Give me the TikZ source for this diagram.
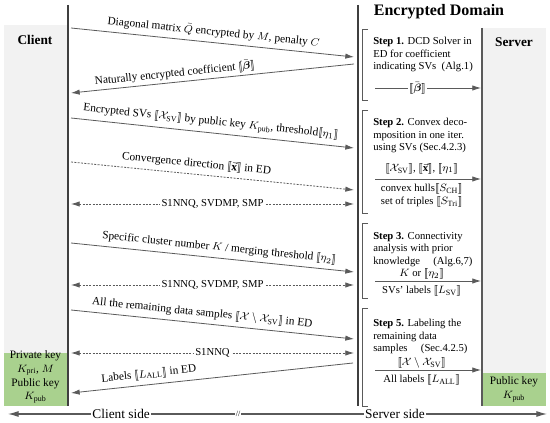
\documentclass[tikz,border=0pt]{standalone}
\usepackage{amsmath}
\usepackage{fontspec}
\setmainfont{Liberation Serif}
\usepackage{tikz}
\usetikzlibrary{arrows.meta,positioning}
\definecolor{PanelGray}{HTML}{F2F2F2}
\definecolor{KeyGreen}{HTML}{A9D18E}
\definecolor{Ink}{HTML}{5A5A5A}
\definecolor{LifeInk}{HTML}{3F3F3F}
\newcommand{\enc}[1]{[\![#1]\!]}
\newcommand{\Xsv}{\mathcal{X}_{\mathrm{SV}}}

\begin{document}
\begin{tikzpicture}[
  x=0.75pt,y=-0.75pt,
  font=\fontsize{8}{9.5}\selectfont,
  msg/.style={-{Latex[length=6.5pt,width=4pt]},draw=Ink,line width=0.6pt},
  back/.style={{Latex[length=6.5pt,width=4pt]}-,draw=Ink,line width=0.6pt},
  proto/.style={{Latex[length=6.5pt,width=4pt]}-{Latex[length=6.5pt,width=4pt]},
    draw=Ink,line width=0.6pt,dash pattern=on 1.5pt off 1pt},
  hint/.style={-{Latex[length=6.5pt,width=4pt]},draw=Ink,line width=0.6pt,
    dash pattern=on 1.5pt off 1pt},
  life/.style={draw=LifeInk,line width=1.6pt},
  brk/.style={draw=Ink,line width=0.5pt},
  steptext/.style={anchor=north west,align=left,inner sep=0pt},
  onwire/.style={fill=white,inner sep=1pt},
  msglabel/.style={above,sloped,font=\fontsize{8.5}{10}\selectfont},
  tight/.style={above,inner sep=1pt},
  sidelabel/.style={fill=white,inner sep=1pt,font=\fontsize{10}{12}\selectfont},
  head/.style={font=\bfseries\fontsize{10}{12}\selectfont}
]
  \useasboundingbox (0,0) rectangle (550,423);

  % side panels
  \fill[PanelGray] (4,25) rectangle (67,353);
  \fill[KeyGreen] (4,353) rectangle (67,406);
  \fill[PanelGray] (483,28) rectangle (546,373);
  \fill[KeyGreen] (483,373) rectangle (546,406);

  \node[head] (client) at (35,40) {Client};
  \node[head] (server) at (514,42) {Server};
  \node[font=\bfseries\fontsize{12}{14}\selectfont] (domain) at (439,12)
    {Encrypted Domain};

  \node[align=center,font=\fontsize{8.5}{10.3}\selectfont] (clientkeys)
    at (35.5,377) {Private key\\$K_{\mathrm{pri}}$, $M$\\Public key\\$K_{\mathrm{pub}}$};
  \node[align=center,font=\fontsize{8.5}{10.3}\selectfont] (serverkey)
    at (514,389.5) {Public key\\$K_{\mathrm{pub}}$};

  % life lines
  \coordinate (clienttop) at (68,5);
  \coordinate (clientbot) at (68,406);
  \coordinate (domaintop) at (358,5);
  \coordinate (domainbot) at (358,406);
  \coordinate (servertop) at (482,28);
  \coordinate (serverbot) at (482,406);
  \draw[life] (clienttop) -- (clientbot);
  \draw[life] (domaintop) -- (domainbot);
  \draw[draw=Ink,line width=0.8pt] (servertop) -- (serverbot);

  % step brackets
  \draw[brk] (368,29) -- (362,29) -- (362,100) -- (368,100);
  \draw[brk] (368,110) -- (362,110) -- (362,213) -- (368,213);
  \draw[brk] (368,223) -- (362,223) -- (362,298) -- (368,298);
  \draw[brk] (368,308) -- (362,308) -- (362,406) -- (368,406);

  % steps inside the encrypted domain
  \node[steptext] (step1) at (373,37)
    {\textbf{Step 1.} DCD Solver in\\ED for coefficient\\indicating SVs~ (Alg.1)};
  \coordinate (s1a) at (375,88);
  \coordinate (s1b) at (481,88);
  \draw[msg] (s1a) -- node[onwire,inner ysep=0pt,pos=0.4] (beta1)
    {$\enc{\bar{\boldsymbol{\beta}}}$} (s1b);

  \node[steptext] (step2) at (373,118)
    {\textbf{Step 2.} Convex deco-\\mposition in one iter.\\using SVs (Sec.4.2.3)};
  \coordinate (s2a) at (375,179);
  \coordinate (s2b) at (481,179);
  \draw[msg] (s2a) -- node[above,pos=0.44] (in2)
    {$\enc{\Xsv}$, $\enc{\vec{\mathbf{x}}}$, $\enc{\eta_1}$}
    node[below,pos=0.44,align=center] (out2)
    {convex hulls$\enc{S_{\mathrm{CH}}}$\\set of triples $\enc{S_{\mathrm{Tri}}}$} (s2b);

  \node[steptext] (step3) at (373,232)
    {\textbf{Step 3.} Connectivity\\analysis with prior\\knowledge \quad(Alg.6,7)};
  \coordinate (s3a) at (375,281);
  \coordinate (s3b) at (481,281);
  \draw[msg] (s3a) -- node[tight,pos=0.44] (in3) {$K$ or $\enc{\eta_2}$}
    node[below,pos=0.44] (out3) {SVs' labels $\enc{L_{\mathrm{SV}}}$} (s3b);

  \node[steptext] (step5) at (373,319)
    {\textbf{Step 5.} Labeling the\\remaining data\\samples \quad(Sec.4.2.5)};
  \coordinate (s5a) at (375,370);
  \coordinate (s5b) at (481,370);
  \draw[msg] (s5a) -- node[tight,pos=0.44] (in5) {$\enc{\mathcal{X}\setminus\Xsv}$}
    node[below,pos=0.44] (out5) {All labels $\enc{L_{\mathrm{ALL}}}$} (s5b);

  % messages between client and encrypted domain
  \coordinate (m1a) at (71,28);   \coordinate (m1b) at (354,57);
  \coordinate (m2a) at (71,93);   \coordinate (m2b) at (354,64);
  \coordinate (m3a) at (71,118);  \coordinate (m3b) at (354,148);
  \coordinate (m4a) at (71,162);  \coordinate (m4b) at (354,190);
  \coordinate (m5a) at (71,204);  \coordinate (m5b) at (354,204);
  \coordinate (m6a) at (71,243);  \coordinate (m6b) at (354,272);
  \coordinate (m7a) at (71,285);  \coordinate (m7b) at (354,285);
  \coordinate (m8a) at (71,310);  \coordinate (m8b) at (354,339);
  \coordinate (m9a) at (71,353);  \coordinate (m9b) at (354,353);
  \coordinate (m10a) at (71,393); \coordinate (m10b) at (353,363);

  \draw[msg] (m1a) -- node[msglabel,pos=0.5]
    {Diagonal matrix $\bar{Q}$ encrypted by $M$, penalty $C$} (m1b);
  \draw[back] (m2a) -- node[msglabel,inner sep=2pt,pos=0.37]
    {Naturally encrypted coefficient $\enc{\bar{\boldsymbol{\beta}}}$} (m2b);
  \draw[msg] (m3a) -- node[msglabel,pos=0.49]
    {Encrypted SVs $\enc{\Xsv}$ by public key $K_{\mathrm{pub}}$, threshold$\enc{\eta_1}$} (m3b);
  \draw[hint] (m4a) -- node[msglabel,pos=0.44]
    {Convergence direction $\enc{\vec{\mathbf{x}}}$ in ED} (m4b);
  \draw[proto] (m5a) -- node[onwire] {S1NNQ, SVDMP, SMP} (m5b);
  \draw[msg] (m6a) -- node[msglabel,pos=0.52]
    {Specific cluster number $K$ / merging threshold $\enc{\eta_2}$} (m6b);
  \draw[proto] (m7a) -- node[onwire] {S1NNQ, SVDMP, SMP} (m7b);
  \draw[msg] (m8a) -- node[msglabel,pos=0.46]
    {All the remaining data samples $\enc{\mathcal{X}\setminus\Xsv}$ in ED} (m8b);
  \draw[proto] (m9a) -- node[onwire] {S1NNQ} (m9b);
  \draw[back] (m10a) -- node[msglabel,pos=0.28]
    {Labels $\enc{L_{\mathrm{ALL}}}$ in ED} (m10b);

  % sides
  \coordinate (sideleft) at (8,414);
  \coordinate (sideright) at (547,414);
  \draw[{Latex[length=8pt,width=4.5pt]}-{Latex[length=8pt,width=4.5pt]},
    draw=Ink,line width=0.8pt] (sideleft) --
    node[sidelabel,pos=0.21] (clientside) {Client side}
    node[fill=white,inner sep=0.8pt,font=\fontsize{6}{7}\selectfont,pos=0.427] (cut) {//}
    node[sidelabel,pos=0.718] (serverside) {Server side} (sideright);
\end{tikzpicture}
\end{document}
